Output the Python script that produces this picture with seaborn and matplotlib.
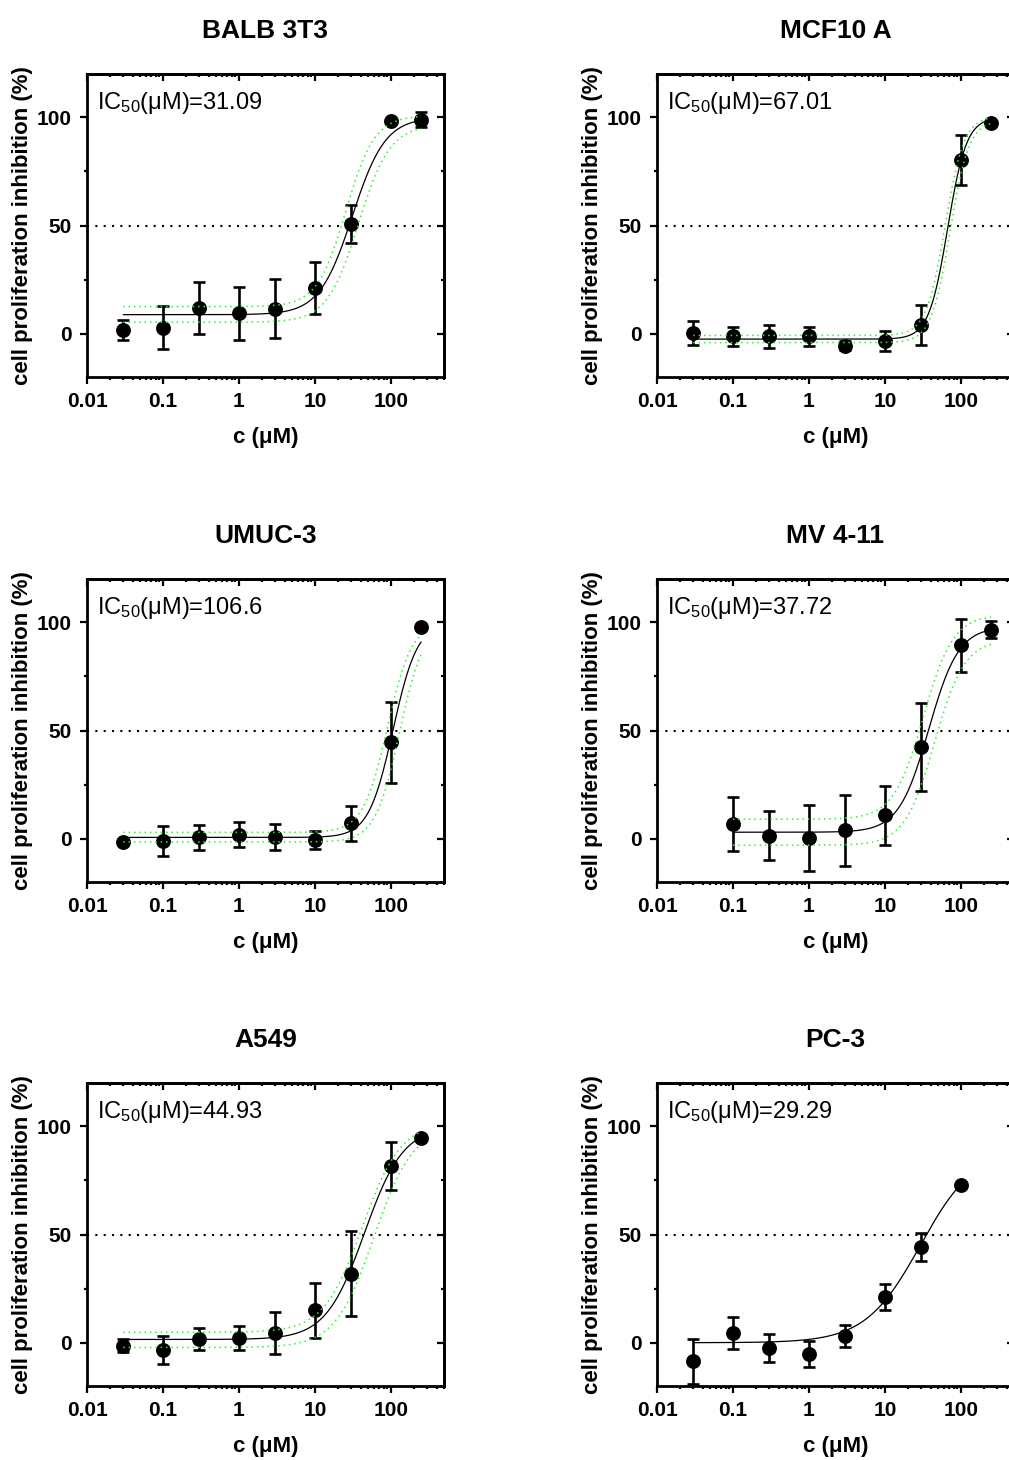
import numpy as np
import pandas as pd
import matplotlib
matplotlib.use("Agg")
import matplotlib.pyplot as plt
import seaborn as sns
from matplotlib.ticker import FixedLocator, FixedFormatter, LogLocator, NullFormatter

# ---------------------------------------------------------------- data
conc_full = [0.03, 0.1, 0.3, 1, 3, 10, 30, 100, 250]
conc_mv = [0.1, 0.3, 1, 3, 10, 30, 100, 250]
conc_pc3 = [0.03, 0.1, 0.3, 1, 3, 10, 30, 100]

balb_mean = [1.7, 2.8, 11.7, 9.4, 11.6, 21.0, 50.7, 98.5, 98.9]
balb_sd = [4.8, 9.9, 12.0, 12.1, 13.6, 12.0, 9.0, 0.5, 3.5]

mcf_mean = [0.3, -1.2, -1.2, -1.2, -5.5, -3.2, 4.2, 80.3, 97.4]
mcf_sd = [5.5, 4.5, 5.2, 4.3, 2.0, 4.6, 9.2, 11.7, 0.5]

umuc_mean = [-1.5, -1.2, 0.6, 1.8, 0.8, -0.5, 7.1, 44.5, 97.8]
umuc_sd = [0.5, 6.9, 5.9, 5.8, 6.2, 4.2, 8.0, 18.7, 0.5]

mv_mean = [6.8, 1.4, 0.3, 3.8, 10.8, 42.4, 89.4, 96.6]
mv_sd = [12.4, 11.3, 15.2, 16.4, 13.5, 20.2, 12.2, 3.8]

a549_mean = [-1.4, -3.2, 1.8, 2.2, 4.5, 14.9, 31.8, 81.6, 94.8]
a549_sd = [3.1, 6.5, 5.0, 5.5, 9.6, 12.7, 19.6, 11.0, 0.5]

pc3_mean = [-8.6, 4.5, -2.5, -5.2, 2.9, 21.0, 44.1, 72.7]
pc3_sd = [10.5, 7.5, 6.4, 5.9, 5.1, 6.1, 6.5, 0.5]

# four-parameter logistic fits: (bottom, top, IC50, Hill slope)
ic50_values = [31.09, 67.01, 106.6, 37.72, 44.93, 29.29]
ic50_labels = ["31.09", "67.01", "106.6", "37.72", "44.93", "29.29"]
fit_bottom = [8.8, -2.5, 0.6, 3.0, 1.5, 0.0]
fit_top = [100.0, 100.0, 100.0, 98.0, 100.0, 90.0]
fit_hill = [2.0, 3.5, 2.7, 2.2, 1.7, 1.2]

# 95% confidence band limits, each as a logistic (bottom, top, IC50, Hill)
band_upper = [(12.5, 100.8, 25.5, 2.3), (-0.8, 100.5, 62.0, 3.5),
              (2.9, 100.0, 90.0, 2.7), (9.0, 103.5, 32.0, 2.2),
              (4.8, 102.0, 42.0, 1.7), None]
band_lower = [(5.3, 96.5, 37.5, 2.1), (-4.1, 98.5, 72.0, 3.5),
              (-1.5, 100.0, 130.0, 2.7), (-3.0, 92.0, 45.0, 2.2),
              (-2.2, 100.0, 60.0, 1.7), None]

titles = ["BALB 3T3", "MCF10 A", "UMUC-3", "MV 4-11", "A549", "PC-3"]
concs = [conc_full, conc_full, conc_full, conc_mv, conc_full, conc_pc3]
means = [balb_mean, mcf_mean, umuc_mean, mv_mean, a549_mean, pc3_mean]
sds = [balb_sd, mcf_sd, umuc_sd, mv_sd, a549_sd, pc3_sd]

x_ticks = [0.01, 0.1, 1, 10, 100]
x_ticklabels = ["0.01", "0.1", "1", "10", "100"]
y_ticks = [0, 50, 100]
y_minor = [25, 75]

# ---------------------------------------------------------------- style
sns.set_theme(style="ticks")
plt.rcParams['font.family'] = ['Liberation Sans', 'DejaVu Sans']
plt.rcParams['mathtext.default'] = 'regular'
plt.rcParams['text.color'] = 'black'
plt.rcParams['axes.labelcolor'] = 'black'
plt.rcParams['xtick.color'] = 'black'
plt.rcParams['ytick.color'] = 'black'
plt.rcParams['axes.edgecolor'] = 'black'

W, H = 1009, 1460
fig = plt.figure(figsize=(W / 100, H / 100), dpi=100)

col_left = [87, 657]
row_top = [74, 579, 1083]
ax_w, ax_h = 357, 303

SPINE_LW = 2.0
GREEN = '#2ef02e'


def logistic(x, bottom, top, ic50, hill):
    x = np.asarray(x, dtype=float)
    return bottom + (top - bottom) / (1.0 + (ic50 / x) ** hill)


for i in range(6):
    r, c = divmod(i, 2)
    left = col_left[c] / W
    bottom = 1 - (row_top[r] + ax_h) / H
    ax = fig.add_axes([left, bottom, ax_w / W, ax_h / H])

    df = pd.DataFrame({"c": concs[i], "inh": means[i], "sd": sds[i]})

    # mean +/- SD
    ax.errorbar(df["c"], df["inh"], yerr=df["sd"], fmt='none', ecolor='black',
                elinewidth=1.9, capsize=4.2, capthick=1.9, zorder=3)
    sns.scatterplot(data=df, x="c", y="inh", ax=ax, s=115, color='black',
                    edgecolor='black', linewidth=0, zorder=4, legend=False)

    # fitted curve and confidence band over the tested range
    xs = np.logspace(np.log10(min(concs[i])), np.log10(max(concs[i])), 300)
    fit = logistic(xs, fit_bottom[i], fit_top[i], ic50_values[i], fit_hill[i])
    sns.lineplot(x=xs, y=fit, ax=ax, color='black', linewidth=0.9,
                 estimator=None, sort=False, zorder=5)
    if band_upper[i] is not None:
        for p in (band_upper[i], band_lower[i]):
            sns.lineplot(x=xs, y=logistic(xs, *p), ax=ax, color=GREEN,
                         linewidth=1.1, linestyle=(0, (1, 2.5)),
                         estimator=None, sort=False, zorder=6)

    # 50 % reference line
    ax.axhline(50, color='black', linewidth=1.5, linestyle=(0, (1, 3)), zorder=2)

    ax.set_xscale('log')
    ax.set_xlim(0.01, 500)
    ax.set_ylim(-20, 120)

    ax.xaxis.set_major_locator(FixedLocator(x_ticks))
    ax.xaxis.set_major_formatter(FixedFormatter(x_ticklabels))
    ax.xaxis.set_minor_locator(LogLocator(base=10, subs=np.arange(2, 10)))
    ax.xaxis.set_minor_formatter(NullFormatter())
    ax.yaxis.set_major_locator(FixedLocator(y_ticks))
    ax.yaxis.set_minor_locator(FixedLocator(y_minor))

    ax.tick_params(which='both', direction='out', top=False, right=False,
                   width=1.6, color='black')
    ax.tick_params(which='major', length=5, labelsize=15, pad=6)
    ax.tick_params(which='minor', length=2.5)
    for lab in ax.get_xticklabels() + ax.get_yticklabels():
        lab.set_fontweight('bold')

    for s in ax.spines.values():
        s.set_visible(True)
        s.set_linewidth(SPINE_LW)
        s.set_color('black')

    # inward ticks on the opposite sides
    sec_y = ax.secondary_yaxis('right')
    sec_y.yaxis.set_major_locator(FixedLocator(y_ticks))
    sec_y.yaxis.set_minor_locator(FixedLocator(y_minor))
    sec_y.tick_params(which='both', direction='in', labelright=False,
                      width=1.6, color='black')
    sec_y.tick_params(which='major', length=5)
    sec_y.tick_params(which='minor', length=2.5)
    sec_y.spines['right'].set_linewidth(SPINE_LW)

    sec_x = ax.secondary_xaxis('top')
    sec_x.xaxis.set_major_locator(FixedLocator(x_ticks))
    sec_x.xaxis.set_minor_locator(LogLocator(base=10, subs=np.arange(2, 10)))
    sec_x.xaxis.set_minor_formatter(NullFormatter())
    sec_x.tick_params(which='both', direction='in', labeltop=False,
                      width=1.6, color='black')
    sec_x.tick_params(which='major', length=5)
    sec_x.tick_params(which='minor', length=2.5)
    sec_x.spines['top'].set_linewidth(SPINE_LW)

    ax.set_title(titles[i], fontsize=19, fontweight='bold', pad=26)
    ax.set_xlabel("c (μM)", fontsize=16, fontweight='bold', labelpad=11)
    ax.set_ylabel("cell proliferation inhibition (%)", fontsize=16,
                  fontweight='bold', labelpad=3)

    ax.annotate("IC$_{50}$(μM)=" + ic50_labels[i], xy=(0, 1),
                xycoords='axes fraction', xytext=(7.5, -25),
                textcoords='offset points', ha='left', va='baseline',
                fontsize=17, color='black')

fig.savefig("out.png", dpi=100)
